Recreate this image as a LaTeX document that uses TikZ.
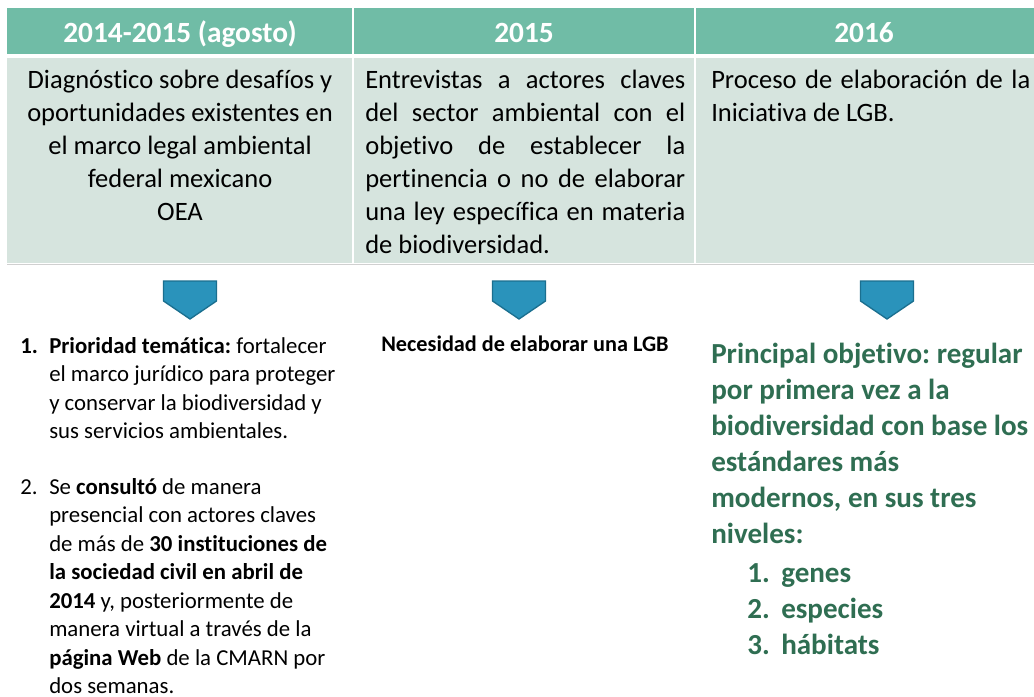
\documentclass[tikz,border=0pt]{standalone}
\usepackage{fontspec}
\setmainfont{Carlito}[Ligatures={NoCommon}]
\frenchspacing
\definecolor{headcol}{HTML}{70BCA6}
\definecolor{bodycol}{HTML}{D6E4DE}
\definecolor{arrfill}{HTML}{2A93BB}
\definecolor{arrdraw}{HTML}{1B6F8F}
\definecolor{greentxt}{HTML}{2F6E52}
\definecolor{rulegray}{HTML}{D0D0D0}
\newcommand{\jlineA}[1]{\makebox[240pt][s]{#1}}
\newcommand{\jlineB}[1]{\makebox[239.25pt][s]{#1}}
\begin{document}
\begin{tikzpicture}[x=0.75pt,y=-0.75pt,
  hdrcell/.style={fill=headcol},
  bodycell/.style={fill=bodycol},
  hdrtxt/.style={anchor=base, inner sep=0pt, text=white, font=\fontsize{22}{26}\selectfont\bfseries},
  bodytxt/.style={anchor=base, inner sep=0pt, font=\fontsize{19.9}{24}\selectfont},
  bodyjust/.style={anchor=base west, inner sep=0pt, font=\fontsize{19.9}{24}\selectfont},
  listtxt/.style={anchor=base west, inner sep=0pt, font=\fontsize{17.1}{21}\selectfont},
  needtxt/.style={anchor=base west, inner sep=0pt, font=\fontsize{16.7}{20}\selectfont\bfseries},
  greentext/.style={anchor=base west, inner sep=0pt, text=greentxt, font=\fontsize{21.8}{27}\selectfont\bfseries},
  downarrow/.pic={\draw[fill=arrfill, draw=arrdraw, line width=1pt, line join=miter]
      (-26.5,0) -- (26.5,0) -- (26.5,20) -- (0,38) -- (-26.5,20) -- cycle;}
]
\useasboundingbox (0,0) rectangle (1034,696);
\fill[white] (0,0) rectangle (1034,696);

% table
\fill[hdrcell] (7,8) rectangle (352,54);
\fill[hdrcell] (353.5,8) rectangle (694,54);
\fill[hdrcell] (695.5,8) rectangle (1034,54);
\fill[bodycell] (7,58) rectangle (352,263);
\fill[bodycell] (353.5,58) rectangle (694,263);
\fill[bodycell] (695.5,58) rectangle (1034,263);
\draw[rulegray, line width=0.75pt] (7,264) -- (1034,264);

% headers
\node[hdrtxt] (h1) at (180,42) {2014-2015 (agosto)};
\node[hdrtxt] (h2) at (524,42) {2015};
\node[hdrtxt] (h3) at (864,42) {2016};

% column 1 top text
\node[bodytxt] (a1) at (180,88) {Diagnóstico sobre desafíos y};
\node[bodytxt] (a2) at (180,121) {oportunidades existentes en};
\node[bodytxt] (a3) at (180,154) {el marco legal ambiental};
\node[bodytxt] (a4) at (180,187) {federal mexicano};
\node[bodytxt] (a5) at (180,220) {OEA};

% column 2 top text
\node[bodyjust] (b1) at (365,88) {\jlineA{Entrevistas a actores claves}};
\node[bodyjust] (b2) at (365,121) {\jlineA{del sector ambiental con el}};
\node[bodyjust] (b3) at (365,154) {\jlineA{objetivo de establecer la}};
\node[bodyjust] (b4) at (365,187) {\jlineA{pertinencia o no de elaborar}};
\node[bodyjust] (b5) at (365,220) {\jlineA{una ley específica en materia}};
\node[bodyjust] (b6) at (365,253) {de biodiversidad.};

% column 3 top text
\node[bodyjust] (c1) at (711,88) {\jlineB{Proceso de elaboración de la}};
\node[bodyjust] (c2) at (711,121) {Iniciativa de LGB.};

% arrows
\pic at (190,281) {downarrow};
\pic at (519,281) {downarrow};
\pic at (887,281) {downarrow};

% column 1 list
\node[listtxt] (n1) at (20,353) {\textbf{1.}};
\node[listtxt] (d1) at (49,353) {\textbf{Prioridad temática:} fortalecer};
\node[listtxt] (d2) at (49,381.5) {el marco jurídico para proteger};
\node[listtxt] (d3) at (49,410) {y conservar la biodiversidad y};
\node[listtxt] (d4) at (49,438.5) {sus servicios ambientales.};
\node[listtxt] (n2) at (20,494) {2.};
\node[listtxt] (e1) at (49,494) {Se \textbf{consultó} de manera};
\node[listtxt] (e2) at (49,522.5) {presencial con actores claves};
\node[listtxt] (e3) at (49,551) {de más de \textbf{30 instituciones de}};
\node[listtxt] (e4) at (49,579.5) {\textbf{la sociedad civil en abril de}};
\node[listtxt] (e5) at (49,608) {\textbf{2014} y, posteriormente de};
\node[listtxt] (e6) at (49,636.5) {manera virtual a través de la};
\node[listtxt] (e7) at (49,665) {\textbf{página Web} de la CMARN por};
\node[listtxt] (e8) at (49,693) {dos semanas.};

% column 2 result
\node[needtxt] (need) at (381,351) {Necesidad de elaborar una LGB};

% column 3 result
\node[greentext] (g1) at (711,363) {Principal objetivo: regular};
\node[greentext] (g2) at (711,399) {por primera vez a la};
\node[greentext] (g3) at (711,435) {biodiversidad con base los};
\node[greentext] (g4) at (711,471) {estándares más};
\node[greentext] (g5) at (711,507) {modernos, en sus tres};
\node[greentext] (g6) at (711,543) {niveles:};
\node[greentext] (m1) at (747,582) {1.};
\node[greentext] (i1) at (781,582) {genes};
\node[greentext] (m2) at (747,618) {2.};
\node[greentext] (i2) at (781,618) {especies};
\node[greentext] (m3) at (747,654) {3.};
\node[greentext] (i3) at (781,654) {hábitats};
\end{tikzpicture}
\end{document}
